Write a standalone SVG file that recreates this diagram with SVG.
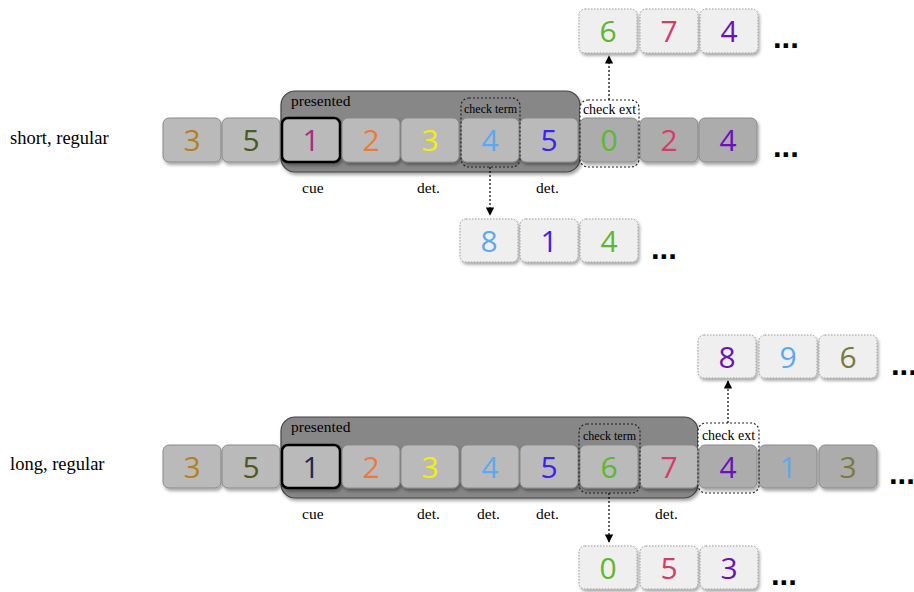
<svg xmlns="http://www.w3.org/2000/svg" width="914" height="592" viewBox="0 0 914 592">
  <defs>
    <filter id="shadow" x="-20%" y="-20%" width="150%" height="160%">
      <feDropShadow dx="1.5" dy="2.5" stdDeviation="1.5" flood-color="#000" flood-opacity="0.35"/>
    </filter>
    <marker id="head" viewBox="0 0 10 10" refX="9" refY="5" markerWidth="7" markerHeight="7" orient="auto">
      <path d="M0,0 L10,5 L0,10 z" fill="#000"/>
    </marker>
  </defs>
  <style>
    .cell { fill: #bababa; stroke: #8a8a8a; stroke-width: 1; filter: url(#shadow); }
    .cell.after { fill: #acacac; }
    .cell.cue { stroke: #000; stroke-width: 2.5; }
    .ext { fill: #efefef; stroke: #9a9a9a; stroke-width: 1; stroke-dasharray: 1.5 1.5; filter: url(#shadow); }
    .digit { font-family: "Open Sans", "Noto Sans", sans-serif; font-size: 30px; text-anchor: middle; }
    .lbl { font-family: "Liberation Serif", serif; font-size: 15.5px; fill: #000; }
    .row { font-family: "Liberation Serif", serif; font-size: 18.5px; fill: #000; }
    .small { font-family: "Liberation Serif", serif; fill: #000; text-anchor: middle; }
    .dots { font-family: "Liberation Sans", sans-serif; font-size: 31px; font-weight: bold; fill: #000; }
    .presented { fill: #878787; stroke: #444; stroke-width: 1.2; filter: url(#shadow); }
    .check { fill: none; stroke: #222; stroke-width: 1.2; stroke-dasharray: 2 2; }
    .checkbg { fill: #fff; }
    .conn { stroke: #000; stroke-width: 1.2; stroke-dasharray: 2 2; fill: none; marker-end: url(#head); }
  </style>

  <!-- row labels -->
  <text class="row" x="10" y="144">short, regular</text>
  <text class="row" x="10" y="470">long, regular</text>

  <!-- ===== short, regular ===== -->
  <g id="short-presented">
    <rect class="presented" x="281" y="91" width="299" height="81" rx="14"/>
    <text class="lbl" x="291" y="106">presented</text>
  </g>
  <g id="short-check-ext-bg">
    <rect class="checkbg" x="580" y="100" width="59" height="67" rx="8"/>
    <text class="small" x="609.5" y="114" font-size="14">check ext</text>
  </g>
  <g id="short-check-term-label">
    <text class="small" x="490.5" y="113" font-size="12">check term</text>
  </g>

  <g id="short-row">
    <g id="s1"><rect class="cell" x="163" y="118" width="58" height="44" rx="6"/><text class="digit" x="192" y="151" fill="#b5801f">3</text></g>
    <g id="s2"><rect class="cell" x="222" y="118" width="58" height="44" rx="6"/><text class="digit" x="251" y="151" fill="#4b5a22">5</text></g>
    <g id="s3"><rect class="cell cue" x="282" y="118" width="58" height="44" rx="6"/><text class="digit" x="311" y="151" fill="#a2307e">1</text></g>
    <g id="s4"><rect class="cell" x="342" y="118" width="58" height="44" rx="6"/><text class="digit" x="371" y="151" fill="#ea7a3a">2</text></g>
    <g id="s5"><rect class="cell" x="401" y="118" width="58" height="44" rx="6"/><text class="digit" x="430" y="151" fill="#f2f200">3</text></g>
    <g id="s6"><rect class="cell" x="461" y="118" width="58" height="44" rx="6"/><text class="digit" x="490" y="151" fill="#5aa9f2">4</text></g>
    <g id="s7"><rect class="cell" x="520" y="118" width="58" height="44" rx="6"/><text class="digit" x="549" y="151" fill="#3a22f2">5</text></g>
    <g id="s8"><rect class="cell after" x="580" y="118" width="58" height="44" rx="6"/><text class="digit" x="609" y="151" fill="#5cb82c">0</text></g>
    <g id="s9"><rect class="cell after" x="640" y="118" width="58" height="44" rx="6"/><text class="digit" x="669" y="151" fill="#d83a6c">2</text></g>
    <g id="s10"><rect class="cell after" x="699" y="118" width="58" height="44" rx="6"/><text class="digit" x="728" y="151" fill="#6a12ba">4</text></g>
    <text class="dots" x="773" y="157">...</text>
  </g>

  <g id="short-checks">
    <rect class="check" x="461" y="98" width="59" height="69" rx="8"/>
    <rect class="check" x="580" y="100" width="59" height="67" rx="8"/>
  </g>

  <g id="short-marks">
    <text class="lbl" x="302" y="193">cue</text>
    <text class="lbl" x="417" y="193">det.</text>
    <text class="lbl" x="536" y="193">det.</text>
  </g>

  <g id="short-ext-up">
    <g id="su1"><rect class="ext" x="579" y="9" width="58" height="44" rx="6"/><text class="digit" x="608" y="42" fill="#5cb82c">6</text></g>
    <g id="su2"><rect class="ext" x="640" y="9" width="58" height="44" rx="6"/><text class="digit" x="669" y="42" fill="#d83a6c">7</text></g>
    <g id="su3"><rect class="ext" x="700" y="9" width="58" height="44" rx="6"/><text class="digit" x="729" y="42" fill="#6a12ba">4</text></g>
    <text class="dots" x="773" y="48">...</text>
  </g>

  <g id="short-ext-down">
    <g id="sd1"><rect class="ext" x="460" y="219" width="58" height="43" rx="6"/><text class="digit" x="489" y="252" fill="#5aa9f2">8</text></g>
    <g id="sd2"><rect class="ext" x="520" y="219" width="58" height="43" rx="6"/><text class="digit" x="549" y="252" fill="#3a22f2">1</text></g>
    <g id="sd3"><rect class="ext" x="580" y="219" width="58" height="43" rx="6"/><text class="digit" x="609" y="252" fill="#5cb82c">4</text></g>
    <text class="dots" x="651" y="259">...</text>
  </g>

  <!-- ===== long, regular ===== -->
  <g id="long-presented">
    <rect class="presented" x="281" y="417" width="417" height="81" rx="14"/>
    <text class="lbl" x="291" y="432">presented</text>
  </g>
  <g id="long-check-ext-bg">
    <rect class="checkbg" x="698" y="423" width="61" height="70" rx="8"/>
    <text class="small" x="728.5" y="440" font-size="14">check ext</text>
  </g>
  <g id="long-check-term-label">
    <text class="small" x="609.5" y="440" font-size="12">check term</text>
  </g>

  <g id="long-row">
    <g id="l1"><rect class="cell" x="163" y="445" width="58" height="43" rx="6"/><text class="digit" x="192" y="478" fill="#b5801f">3</text></g>
    <g id="l2"><rect class="cell" x="222" y="445" width="58" height="43" rx="6"/><text class="digit" x="251" y="478" fill="#4b5a22">5</text></g>
    <g id="l3"><rect class="cell cue" x="282" y="445" width="58" height="43" rx="6"/><text class="digit" x="311" y="478" fill="#1c2a52">1</text></g>
    <g id="l4"><rect class="cell" x="342" y="445" width="58" height="43" rx="6"/><text class="digit" x="371" y="478" fill="#ea7a3a">2</text></g>
    <g id="l5"><rect class="cell" x="401" y="445" width="58" height="43" rx="6"/><text class="digit" x="430" y="478" fill="#f2f200">3</text></g>
    <g id="l6"><rect class="cell" x="461" y="445" width="58" height="43" rx="6"/><text class="digit" x="490" y="478" fill="#5aa9f2">4</text></g>
    <g id="l7"><rect class="cell" x="520" y="445" width="58" height="43" rx="6"/><text class="digit" x="549" y="478" fill="#3a22f2">5</text></g>
    <g id="l8"><rect class="cell" x="580" y="445" width="58" height="43" rx="6"/><text class="digit" x="609" y="478" fill="#5cb82c">6</text></g>
    <g id="l9"><rect class="cell" x="640" y="445" width="58" height="43" rx="6"/><text class="digit" x="669" y="478" fill="#d83a6c">7</text></g>
    <g id="l10"><rect class="cell after" x="699" y="445" width="58" height="43" rx="6"/><text class="digit" x="728" y="478" fill="#6a12ba">4</text></g>
    <g id="l11"><rect class="cell after" x="759" y="445" width="58" height="43" rx="6"/><text class="digit" x="788" y="478" fill="#5aa9f2">1</text></g>
    <g id="l12"><rect class="cell after" x="819" y="445" width="58" height="43" rx="6"/><text class="digit" x="848" y="478" fill="#7b7a40">3</text></g>
    <text class="dots" x="889" y="484">...</text>
  </g>

  <g id="long-checks">
    <rect class="check" x="579" y="424" width="61" height="69" rx="8"/>
    <rect class="check" x="698" y="423" width="61" height="70" rx="8"/>
  </g>

  <g id="long-marks">
    <text class="lbl" x="302" y="519">cue</text>
    <text class="lbl" x="417" y="519">det.</text>
    <text class="lbl" x="477" y="519">det.</text>
    <text class="lbl" x="536" y="519">det.</text>
    <text class="lbl" x="655" y="519">det.</text>
  </g>

  <g id="long-ext-up">
    <g id="lu1"><rect class="ext" x="698" y="335" width="58" height="43" rx="6"/><text class="digit" x="727" y="368" fill="#6a12ba">8</text></g>
    <g id="lu2"><rect class="ext" x="759" y="335" width="58" height="43" rx="6"/><text class="digit" x="788" y="368" fill="#5aa9f2">9</text></g>
    <g id="lu3"><rect class="ext" x="819" y="335" width="58" height="43" rx="6"/><text class="digit" x="848" y="368" fill="#7b7a40">6</text></g>
    <text class="dots" x="891" y="375">...</text>
  </g>

  <g id="long-ext-down">
    <g id="ld1"><rect class="ext" x="579" y="546" width="58" height="43" rx="6"/><text class="digit" x="608" y="579" fill="#5cb82c">0</text></g>
    <g id="ld2"><rect class="ext" x="640" y="546" width="58" height="43" rx="6"/><text class="digit" x="669" y="579" fill="#d83a6c">5</text></g>
    <g id="ld3"><rect class="ext" x="700" y="546" width="58" height="43" rx="6"/><text class="digit" x="729" y="579" fill="#6a12ba">3</text></g>
    <text class="dots" x="771" y="585">...</text>
  </g>

  <!-- connectors -->
  <g id="connectors">
    <line class="conn" x1="609" y1="100" x2="609" y2="56"/>
    <line class="conn" x1="490" y1="167" x2="490" y2="215"/>
    <line class="conn" x1="728" y1="423" x2="728" y2="381"/>
    <line class="conn" x1="609" y1="493" x2="609" y2="542"/>
  </g>
</svg>
